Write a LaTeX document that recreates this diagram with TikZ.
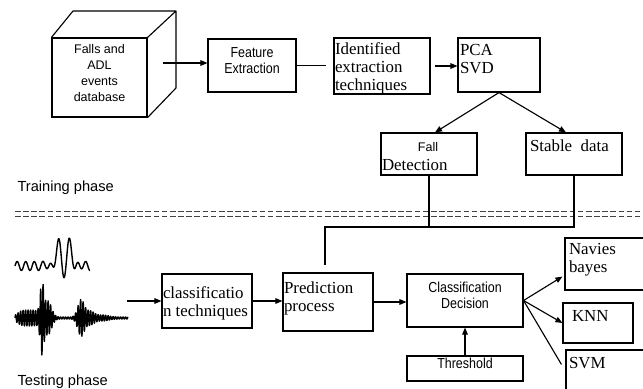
\documentclass[tikz,border=0pt]{standalone}
\usepackage{fontspec}
\setmainfont{Liberation Serif}
\setsansfont{Liberation Sans}
\newfontfamily\narrowsans[FakeStretch=0.86]{Liberation Sans}
\usetikzlibrary{fit,calc,arrows.meta}
\begin{document}
\begin{tikzpicture}[x=0.025cm,y=-0.025cm,
  line width=0.8pt,
  box/.style={draw, inner sep=0pt},
  sanstxt/.style={font=\sffamily\fontsize{8.9}{11.2}\selectfont, align=center},
  narrowtxt/.style={font=\narrowsans\fontsize{10.3}{11.4}\selectfont, align=center},
  sertxt/.style={font=\rmfamily\fontsize{12}{12.8}\selectfont, align=left, inner sep=0pt, anchor=north west},
  phase/.style={font=\sffamily\fontsize{10.4}{12}\selectfont, inner sep=0pt, anchor=west},
  arr/.style={-{Triangle[length=5pt,width=4pt]}},
  sep/.style={line width=0.7pt, black!75, dash pattern=on 4pt off 1.8pt},
  wave/.style={line width=1pt, line join=round},
  declare function={
    gs(\xx,\cc,\ww)=exp(max(-15,-((\xx-\cc)/\ww)^2));
    gq(\xx,\cc,\ww)=exp(max(-15,-((\xx-\cc)/\ww)^4));
  }]

\useasboundingbox (0,0) rectangle (643,388);
\clip (0,0) rectangle (643,388);

% ---------------- training phase ----------------
% database drawn as a cube
\node[box, sanstxt, fit={(52,38) (147,117)}] (db) {Falls and\\ADL\\events\\database};
\coordinate (dbtl) at (73,11);
\coordinate (dbtr) at (176,11);
\coordinate (dbbr) at (176,88);
\draw[line join=round] (db.north west) -- (dbtl) -- (dbtr) -- (db.north east)
      (dbtr) -- (dbbr) -- (db.south east);
\coordinate (dbout) at (163,63);

\node[box, narrowtxt, fit={(208,39) (296,92)}] (fe) {Feature\\Extraction};

\node[box, fit={(334,38) (430,94)}] (idt) {};
\node[sertxt] (idtt) at ($(idt.north west)+(1,4.4)$) {Identified\\extraction\\techniques};

\node[box, fit={(458,38) (540,92)}] (pca) {};
\node[sertxt] (pcat) at ($(pca.north west)+(2,6.4)$) {PCA\\SVD};

\node[box, fit={(381,133) (477,175)}] (fall) {};
\node[sanstxt, inner sep=0pt] (fallt1) at (428,147) {Fall};
\node[sertxt] (fallt2) at ($(fall.north west)+(1,26.4)$) {Detection};

\node[box, fit={(526,133) (622,175)}] (stable) {};
\node[sertxt] (stablet) at ($(stable.north west)+(4,7)$) {Stable\ \ data};

\draw[arr] (dbout) -- (dbout -| fe.west);
\draw[shorten >=0.175cm] (fe.east) -- (fe.east -| idt.west);
\draw[arr, shorten <=0.1cm] (idt.east) -- (idt.east -| pca.west);
\draw[arr] (pca.south) -- ($(fall.north)+(6,0)$);
\draw[arr] (pca.south) -- ($(stable.north)+(-8,0)$);

\node[phase] (train) at (17,188) {Training phase};

% phase separator
\draw[sep] (15,211) -- (643,211);
\draw[sep] (15,216) -- (643,216);

% ---------------- testing phase ----------------
\node[box, fit={(162,274) (252,328)}] (ct) {};
\node[sertxt] (ctt) at ($(ct.north west)+(1,12.4)$) {classificatio\\n techniques};

\node[box, fit={(283,273) (373,331)}] (pred) {};
\node[sertxt] (predt) at ($(pred.north west)+(1,8.4)$) {Prediction\\process};

\node[box, narrowtxt, fit={(407,274) (523,327)}] (cd) {Classification\\Decision};
\node[box, narrowtxt, fit={(407,356) (523,381)}] (thr) {Threshold};

\node[box, fit={(565,238) (646,290)}] (nb) {};
\node[sertxt] (nbt) at ($(nb.north west)+(4,5.4)$) {Navies\\bayes};

\node[box, fit={(563,303) (633,343)}] (knn) {};
\node[sertxt] (knnt) at ($(knn.north west)+(9,7)$) {KNN};

\node[box, fit={(566,350) (646,400)}] (svm) {};
\node[sertxt] (svmt) at ($(svm.north west)+(3,7.4)$) {SVM};

\node[phase] (test) at (17,382) {Testing phase};

% fall / stable outputs feed the prediction process
\coordinate (bus) at (325,227);
\draw (fall.south) -- (fall.south |- bus);
\draw[shorten >=0.175cm] (stable.south) |- (bus) -- (bus |- pred.north);

% input signals
\draw[wave] plot[domain=15:90, samples=320]
  (\x, {266 - 4.5*sin(42*(\x-15))*(1-0.8*gs(\x,64,8))
        - 36*gs(\x,64,10)*(0.35+0.65*cos(30*(\x-58)))});
\draw[wave] plot[domain=15:128, samples=700]
  (\x, {318 - sin(144*(\x-15))*(1 + 7*gq(\x,29,13) + 30*gs(\x,42,2.5)
        + 16*gs(\x,48,5) + 17*gs(\x,81,4.5) + 6*gs(\x,90,6) + 2*gs(\x,103,8))});
\coordinate (waveout) at (127,301);

\draw[arr] (waveout) -- (ct.west);
\draw[arr] (ct.east) -- (ct.east -| pred.west);
\draw[arr] (pred.east) -- (pred.east -| cd.west);
\draw[arr] (thr.north) -- (cd.south);
\draw[arr] (cd.east) -- ($(nb.south west)+(-2,-14)$);
\draw[arr] (cd.east) -- (knn.west);
\draw (cd.east) -- ($(svm.north west)+(-4,15)$);

\end{tikzpicture}
\end{document}
